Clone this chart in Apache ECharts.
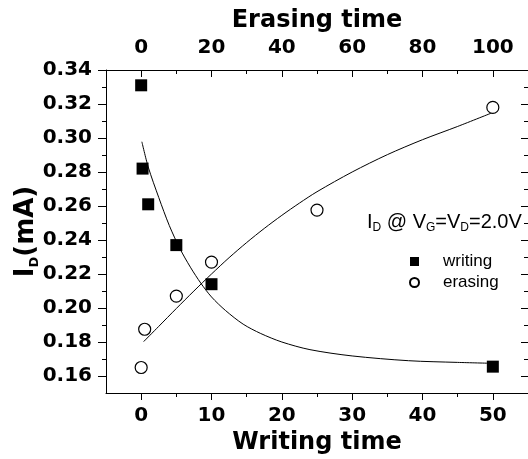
<!DOCTYPE html>
<html>
<head>
<meta charset="utf-8">
<script src="https://cdn.jsdelivr.net/npm/echarts@6/dist/echarts.min.js"></script>
<style>html,body{margin:0;padding:0;background:#fff}#c{width:528px;height:459px}</style>
</head>
<body>
<div id="c"></div>
<script>
// ---- data ----
var writingX = [0, 0.2, 1, 5, 10, 50];
var writingY = [0.331, 0.282, 0.261, 0.237, 0.214, 0.1655];
var erasingX = [0, 1, 10, 20, 50, 100];
var erasingY = [0.165, 0.1875, 0.207, 0.227, 0.2576, 0.318];
var writingFitX = [0.1, 1, 2.5, 4, 5.5, 7, 8.5, 10, 12, 14.5, 17, 20, 24, 30, 38, 45, 49.6];
var writingFitY = [0.2978, 0.2830, 0.2650, 0.2485, 0.2350, 0.2240, 0.2145, 0.2065, 0.1985, 0.1905, 0.1850, 0.1800, 0.1755, 0.1718, 0.1690, 0.1680, 0.1675];
var erasingFitX = [0.7, 5, 10, 15, 20, 25, 30, 35, 40, 45, 50, 60, 70, 80, 90, 100];
var erasingFitY = [0.1802, 0.1892, 0.1997, 0.2100, 0.2200, 0.2296, 0.2385, 0.2468, 0.2545, 0.2617, 0.2684, 0.2800, 0.2902, 0.2990, 0.3068, 0.3150];
var bottomTicks = [0, 10, 20, 30, 40, 50];
var topTicks = [0, 20, 40, 60, 80, 100];
var yTicks = [0.16, 0.18, 0.20, 0.22, 0.24, 0.26, 0.28, 0.30, 0.32, 0.34];

function zip(a, b) { return a.map(function (v, i) { return [v, b[i]]; }); }

var BOLD = 'DejaVu Sans';
var lineStyle = { color: '#000', width: 1 };

function hasTick(list, v) {
  for (var i = 0; i < list.length; i++) if (Math.abs(list[i] - v) < 1e-7) return true;
  return false;
}

var chart = echarts.init(document.getElementById('c'), null, { renderer: 'canvas' });
chart.setOption({
  animation: false,
  backgroundColor: '#fff',
  grid: { left: 106, right: 0, top: 70, bottom: 66, containLabel: false, outerBoundsMode: 'none' },
  xAxis: [
    { type: 'value', position: 'bottom', min: -5, max: 55, interval: 5,
      axisLine: { show: true, onZero: false, lineStyle: lineStyle },
      axisTick: { show: true, inside: false, length: 4, lineStyle: lineStyle },
      axisLabel: { margin: 13, color: '#000', fontFamily: BOLD, fontWeight: 'bold', fontSize: 20,
        showMinLabel: false, showMaxLabel: false,
        formatter: function (v) { return hasTick(bottomTicks, v) ? String(Math.round(v)) : ''; } },
      splitLine: { show: false },
      name: 'Writing time', nameLocation: 'middle', nameGap: 26,
      nameTextStyle: { color: '#000', fontFamily: BOLD, fontWeight: 'bold', fontSize: 24, verticalAlign: 'top' } },
    { type: 'value', position: 'top', min: -10, max: 110, interval: 10,
      axisLine: { show: true, onZero: false, lineStyle: lineStyle },
      axisTick: { show: true, inside: true, length: 4, lineStyle: lineStyle },
      axisLabel: { margin: 12, color: '#000', fontFamily: BOLD, fontWeight: 'bold', fontSize: 20,
        showMinLabel: false, showMaxLabel: false,
        formatter: function (v) { return hasTick(topTicks, v) ? String(Math.round(v)) : ''; } },
      splitLine: { show: false },
      name: 'Erasing time', nameLocation: 'middle', nameGap: 34,
      nameTextStyle: { color: '#000', fontFamily: BOLD, fontWeight: 'bold', fontSize: 24 } },
    { type: 'value', position: 'bottom', min: -5, max: 55,
      axisLine: { show: false, onZero: false },
      axisTick: { show: true, inside: false, length: 7, lineStyle: lineStyle, customValues: bottomTicks },
      axisLabel: { show: false }, splitLine: { show: false } },
    { type: 'value', position: 'top', min: -10, max: 110,
      axisLine: { show: false, onZero: false },
      axisTick: { show: true, inside: true, length: 7, lineStyle: lineStyle, customValues: topTicks },
      axisLabel: { show: false }, splitLine: { show: false } }
  ],
  yAxis: [
    { type: 'value', position: 'left', min: 0.15, max: 0.34, interval: 0.01,
      axisLine: { show: true, onZero: false, lineStyle: lineStyle },
      axisTick: { show: true, inside: false, length: 4, lineStyle: lineStyle },
      axisLabel: { margin: 14, color: '#000', fontFamily: BOLD, fontWeight: 'bold', fontSize: 20,
        showMinLabel: false,
        formatter: function (v) { return hasTick(yTicks, v) ? v.toFixed(2) : ''; } },
      splitLine: { show: false },
      name: '{m|I}{s|D}{m|(mA)}', nameLocation: 'middle', nameGap: 65, nameMoveOverlap: false,
      nameTextStyle: { color: '#000',
        rich: {
          m: { fontFamily: BOLD, fontWeight: 'bold', fontSize: 26, lineHeight: 28, verticalAlign: 'top', color: '#000' },
          s: { fontFamily: BOLD, fontWeight: 'bold', fontSize: 13, lineHeight: 14, padding: [20, 0, 0, 0], verticalAlign: 'bottom', color: '#000' }
        } } },
    { type: 'value', position: 'right', min: 0.15, max: 0.34, interval: 0.01,
      axisLine: { show: false, onZero: false },
      axisTick: { show: true, inside: true, length: 4, lineStyle: lineStyle },
      axisLabel: { show: false }, splitLine: { show: false } },
    { type: 'value', position: 'left', min: 0.15, max: 0.34,
      axisLine: { show: false, onZero: false },
      axisTick: { show: true, inside: false, length: 8, lineStyle: lineStyle, customValues: yTicks },
      axisLabel: { show: false }, splitLine: { show: false } },
    { type: 'value', position: 'right', min: 0.15, max: 0.34,
      axisLine: { show: false, onZero: false },
      axisTick: { show: true, inside: true, length: 7, lineStyle: lineStyle, customValues: yTicks },
      axisLabel: { show: false }, splitLine: { show: false } }
  ],
  legend: {
    orient: 'vertical', left: 409, top: 253, padding: 0, itemGap: 4,
    itemWidth: 9, itemHeight: 9,
    textStyle: { color: '#000', fontFamily: 'Liberation Sans', fontSize: 17, padding: [0, 0, 0, 19] },
    data: [ { name: 'writing', icon: 'rect' }, { name: 'erasing', icon: 'circle' } ]
  },
  graphic: [
    { type: 'text', left: 367, top: 206, silent: true,
      style: {
        text: '{m|I}{s|D}{m| @ V}{s|G}{m|=V}{s|D}{m|=2.0V}',
        rich: {
          m: { fontFamily: 'Liberation Sans', fontSize: 20, lineHeight: 22, verticalAlign: 'top', fill: '#000' },
          s: { fontFamily: 'Liberation Sans', fontSize: 12, lineHeight: 12, padding: [16, 0, 0, 0], verticalAlign: 'bottom', fill: '#000' }
        }
      } }
  ],
  series: [
    { name: 'writing fit', type: 'line', xAxisIndex: 0, yAxisIndex: 0, data: zip(writingFitX, writingFitY),
      showSymbol: false, symbol: 'none', smooth: 0.3, lineStyle: { color: '#000', width: 1 }, z: 2 },
    { name: 'erasing fit', type: 'line', xAxisIndex: 1, yAxisIndex: 0, data: zip(erasingFitX, erasingFitY),
      showSymbol: false, symbol: 'none', smooth: 0.3, lineStyle: { color: '#000', width: 1 }, z: 2 },
    { name: 'writing', type: 'scatter', xAxisIndex: 0, yAxisIndex: 0, data: zip(writingX, writingY),
      symbol: 'rect', symbolSize: 12, itemStyle: { color: '#000', opacity: 1 }, z: 3 },
    { name: 'erasing', type: 'scatter', xAxisIndex: 1, yAxisIndex: 0, data: zip(erasingX, erasingY),
      symbol: 'circle', symbolSize: 12, itemStyle: { color: '#fff', borderColor: '#000', borderWidth: 1.2, opacity: 1 }, z: 3 }
  ]
});
</script>
</body>
</html>
